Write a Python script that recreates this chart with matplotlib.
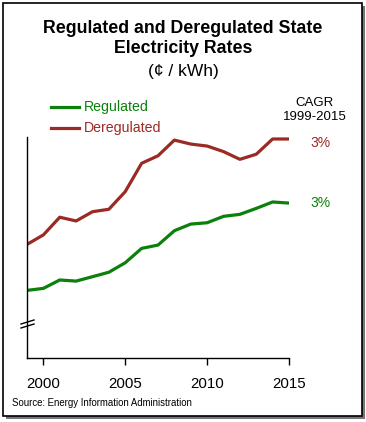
import matplotlib
matplotlib.use("Agg")
import matplotlib.pyplot as plt
from matplotlib.patches import Rectangle
from matplotlib.lines import Line2D

plt.rcParams['font.family'] = ['Liberation Sans', 'DejaVu Sans']

years = list(range(1999, 2016))
regulated = [6.06, 6.15, 6.53, 6.48, 6.68, 6.88, 7.31, 7.96, 8.11, 8.76, 9.06, 9.12,
             9.41, 9.50, 9.77, 10.06, 10.01]
deregulated = [8.14, 8.57, 9.37, 9.20, 9.62, 9.73, 10.53, 11.81, 12.15, 12.86, 12.68,
               12.59, 12.34, 11.99, 12.22, 12.91, 12.91]
xticks = [2000, 2005, 2010, 2015]
series_names = ["Regulated", "Deregulated"]
cagr_labels = ["3%", "3%"]

RED = '#9b2a24'
GREEN = '#0b800b'

W, H = 366, 422
fig = plt.figure(figsize=(W / 100, H / 100), dpi=100)
fig.patch.set_facecolor('white')

def px(x, y):
    return x / W, 1 - y / H

# frame with shadow
sx, sy = px(6, 419)
fig.patches.append(Rectangle((sx, sy), (362 - 3) / W, (416 - 3) / H,
                             transform=fig.transFigure, facecolor='#777777',
                             edgecolor='none', zorder=0))
fx, fy = px(3, 416)
fig.patches.append(Rectangle((fx, fy), (362 - 3) / W, (416 - 3) / H,
                             transform=fig.transFigure, facecolor='white',
                             edgecolor='black', linewidth=1.2, zorder=0.5))

ax = fig.add_axes([27 / W, 1 - 358 / H, (289 - 27) / W, (358 - 137) / H])
ax.set_zorder(3)
ax.set_facecolor('none')
ax.plot(years, deregulated, color=RED, lw=2.3, solid_joinstyle='round')
ax.plot(years, regulated, color=GREEN, lw=2.3, solid_joinstyle='round')
ax.set_xlim(1999, 2015)
ax.set_ylim(3, 13)
ax.set_xticks(xticks)
ax.set_xticklabels([str(t) for t in xticks], fontsize=10.8)
ax.set_yticks([])
for s in ['top', 'right']:
    ax.spines[s].set_visible(False)
for s in ['left', 'bottom']:
    ax.spines[s].set_linewidth(1.0)
    ax.spines[s].set_color('black')
ax.tick_params(axis='x', direction='out', length=5, width=1, pad=9)

# axis break marks
for y0 in (324, 328):
    x1, y1 = px(21, y0)
    x2, y2 = px(34, y0 - 4)
    fig.lines.append(Line2D([x1, x2], [y1, y2], transform=fig.transFigure,
                            color='black', lw=1.0, zorder=4))

# titles
fig.text(*px(183, 32.7), "Regulated and Deregulated State", ha='center',
         va='baseline', fontsize=12.8, fontweight='bold')
fig.text(*px(183, 53.3), "Electricity Rates", ha='center', va='baseline',
         fontsize=12.8, fontweight='bold')
fig.text(*px(183, 76), "(¢ / kWh)", ha='center', va='baseline', fontsize=12.5)

# legend
for name, col, ycen in [(series_names[0], GREEN, 107),
                        (series_names[1], RED, 128)]:
    a, b = px(51, ycen)
    c, _ = px(79, ycen)
    fig.lines.append(Line2D([a, c], [b, b], transform=fig.transFigure,
                            color=col, lw=2.3, zorder=4))
    fig.text(*px(84, ycen), name, ha='left', va='center', fontsize=10.2,
             color=col)

# CAGR
fig.text(*px(315, 105.7), "CAGR", ha='center', va='baseline', fontsize=9.5)
fig.text(*px(315, 120), "1999-2015", ha='center', va='baseline', fontsize=9.5)
fig.text(*px(320, 143), cagr_labels[1], ha='center', va='center', fontsize=10,
         color=RED)
fig.text(*px(320, 203), cagr_labels[0], ha='center', va='center', fontsize=10,
         color=GREEN)

fig.text(*px(12, 406.5), "Source: Energy Information Administration",
         ha='left', va='baseline', fontsize=6.9)

fig.savefig("out.png", dpi=100)
